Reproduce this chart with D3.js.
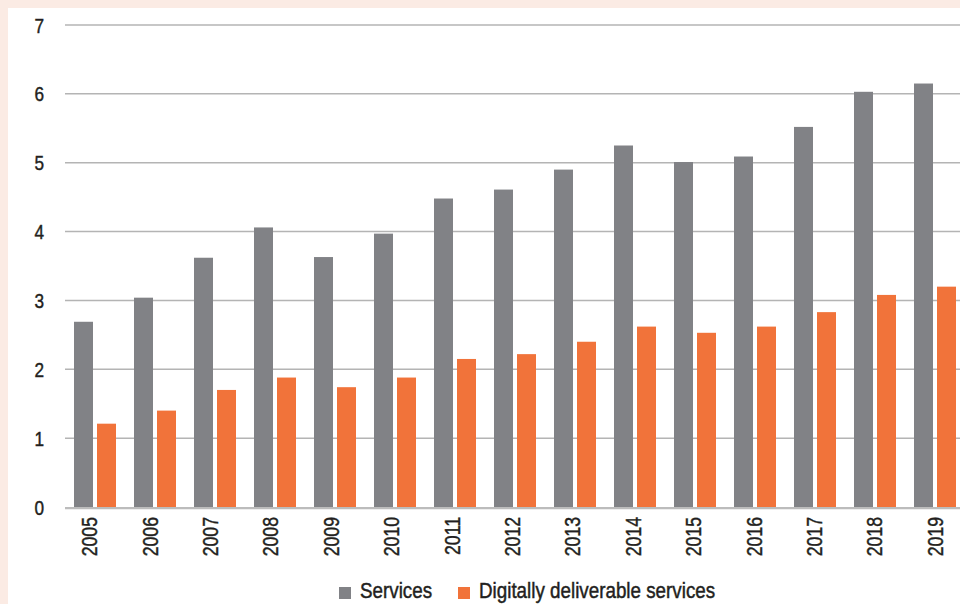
<!DOCTYPE html>
<html>
<head>
<meta charset="utf-8">
<script src="https://cdn.jsdelivr.net/npm/d3@7"></script>
<style>
  html, body { margin: 0; padding: 0; background: #fbebe4; }
  svg { display: block; }
  text { font-family: "Liberation Sans", Arial, sans-serif; fill: #231f20; stroke: #231f20; stroke-width: 0.45px; }
</style>
</head>
<body>
<svg id="chart" width="960" height="604"></svg>
<script>
// Trade values by year
const years = ["2005","2006","2007","2008","2009","2010","2011","2012","2013","2014","2015","2016","2017","2018","2019"];
const services = [2.69, 3.04, 3.62, 4.06, 3.63, 3.97, 4.48, 4.61, 4.90, 5.25, 5.01, 5.09, 5.52, 6.03, 6.15];
const digital = [1.21, 1.40, 1.70, 1.88, 1.74, 1.88, 2.15, 2.22, 2.40, 2.62, 2.53, 2.62, 2.83, 3.08, 3.20];
const yTicks = [0, 1, 2, 3, 4, 5, 6, 7];
const seriesNames = ["Services", "Digitally deliverable services"];
const seriesColors = ["#818286", "#f1733a"];

// condensed lettering: regular face squeezed horizontally
const squeeze = 0.82;
const legendSqueeze = 0.875;

const svg = d3.select("#chart");

// white panel inside the peach frame
svg.append("rect")
  .attr("x", 8).attr("y", 8)
  .attr("width", 952).attr("height", 596)
  .attr("fill", "#ffffff");

const y = d3.scaleLinear().domain([0, 7]).range([507, 25]);

const x0 = d3.scaleBand()
  .domain(years)
  .range([65, 965])
  .paddingInner(0.3)
  .paddingOuter(0.15);

const x1 = d3.scaleBand()
  .domain(seriesNames)
  .range([0, x0.bandwidth()])
  .paddingInner(0.174)
  .paddingOuter(0);

// category label positions along the bottom
const xLabel = d3.scaleBand().domain(years).range([59, 965]);

// gridlines
svg.append("g").selectAll("line")
  .data(yTicks.filter(d => d > 0))
  .join("line")
  .attr("x1", 65).attr("x2", 960)
  .attr("y1", d => y(d)).attr("y2", d => y(d))
  .attr("stroke", "#b4b4b4")
  .attr("stroke-width", 1.5);

// y tick labels
svg.append("g").selectAll("text")
  .data(yTicks)
  .join("text")
  .attr("transform", d => `translate(44,${y(d)}) scale(${squeeze},1)`)
  .attr("dy", "0.36em")
  .attr("text-anchor", "end")
  .attr("font-size", 21)
  .text(d => d);

// bars
const rows = years.map((yr, i) => ({ year: yr, values: [services[i], digital[i]] }));
const groups = svg.append("g").selectAll("g")
  .data(rows)
  .join("g")
  .attr("transform", d => `translate(${x0(d.year)},0)`);

groups.selectAll("rect")
  .data(d => d.values.map((v, k) => ({ name: seriesNames[k], value: v, color: seriesColors[k] })))
  .join("rect")
  .attr("x", d => x1(d.name))
  .attr("width", x1.bandwidth())
  .attr("y", d => y(d.value))
  .attr("height", d => y(0) - y(d.value))
  .attr("fill", d => d.color);

// baseline
svg.append("line")
  .attr("x1", 65).attr("x2", 960)
  .attr("y1", y(0) + 1.2).attr("y2", y(0) + 1.2)
  .attr("stroke", "#bcbcbc")
  .attr("stroke-width", 2.2);

// year labels, rotated
svg.append("g").selectAll("text")
  .data(years)
  .join("text")
  .attr("transform", d => `translate(${xLabel(d) + xLabel.bandwidth() / 2},517) rotate(-90) scale(${squeeze * 0.98},1)`)
  .attr("dy", "0.36em")
  .attr("text-anchor", "end")
  .attr("font-size", 22)
  .text(d => d);

// legend
const legend = svg.append("g");
const legendX = [339, 458];
seriesNames.forEach((name, k) => {
  legend.append("rect")
    .attr("x", legendX[k]).attr("y", 587)
    .attr("width", 12).attr("height", 12)
    .attr("fill", seriesColors[k]);
  legend.append("text")
    .attr("transform", `translate(${legendX[k] + 21},598) scale(${legendSqueeze},1)`)
    .attr("font-size", 21.5)
    .text(name);
});
</script>
</body>
</html>
